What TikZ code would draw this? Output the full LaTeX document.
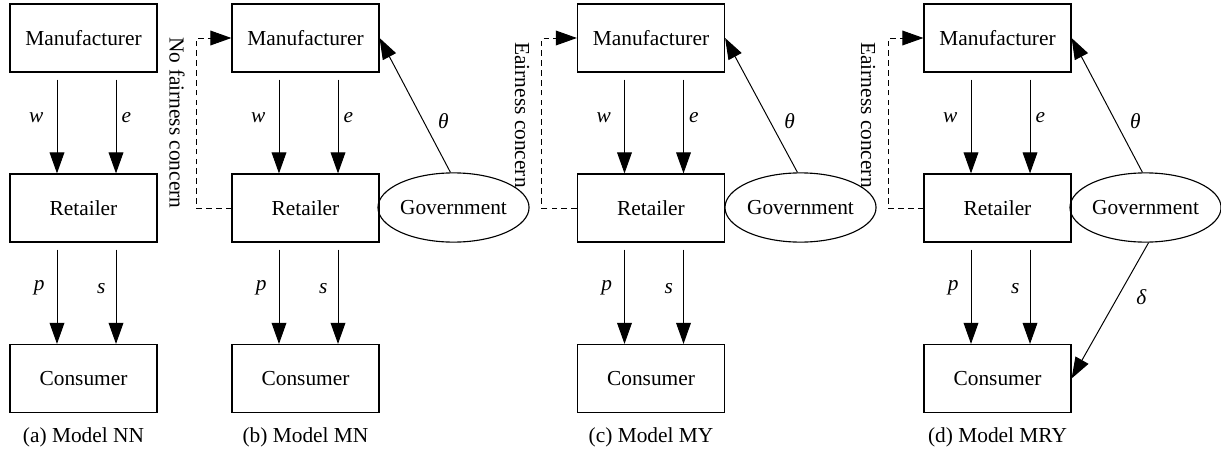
\documentclass[tikz,border=0pt]{standalone}
\usepackage{fontspec}
\setmainfont{Liberation Serif}
\usetikzlibrary{arrows.meta,shapes.geometric}

\begin{document}
\begin{tikzpicture}[x=0.025cm, y=-0.025cm,
    every node/.style={font=\fontsize{15.2}{18}\selectfont},
    box/.style={draw, line width=0.8pt, minimum width=3.675cm, minimum height=1.7cm, inner sep=0pt},
    gov/.style={draw, ellipse, line width=0.8pt, minimum width=3.675cm, minimum height=1.73cm, inner sep=0pt},
    flow/.style={-{Triangle[length=15pt,width=10.5pt]}, line width=0.7pt},
    fair/.style={flow, dash pattern=on 4pt off 3pt},
    lab/.style={font=\fontsize{15.2}{18}\selectfont\itshape, inner sep=0pt},
    concern/.style={rotate=-90, inner sep=0pt}]
  \useasboundingbox (0,0) rectangle (1221,453);
  % Chain of the four models
  \foreach \i/\cx/\mname in {1/83.5/{(a) Model NN}, 2/305.5/{(b) Model MN},
                             3/651/{(c) Model MY}, 4/997.5/{(d) Model MRY}} {
    \node[box] (man\i) at (\cx,38) {Manufacturer};
    \node[box] (ret\i) at (\cx,208) {Retailer};
    \node[box] (con\i) at (\cx,378.5) {Consumer};
    \node (cap\i) at (\cx,437) {\mname};
    \draw[flow, shorten <=5pt] ([xshift=-0.6625cm]man\i.south) -- node[lab, pos=0.45, left=0.33cm] {w} ([xshift=-0.6625cm]ret\i.north);
    \draw[flow, shorten <=5pt] ([xshift=0.8125cm]man\i.south) -- node[lab, pos=0.45, right=0.13cm] {e} ([xshift=0.8125cm]ret\i.north);
    \draw[flow, shorten <=5pt] ([xshift=-0.6625cm]ret\i.south) -- node[lab, pos=0.45, left=0.3cm] {p} ([xshift=-0.6625cm]con\i.north);
    \draw[flow, shorten <=5pt] ([xshift=0.8125cm]ret\i.south) -- node[lab, pos=0.45, left=0.25cm] {s} ([xshift=0.8125cm]con\i.north);
  }
  % Fairness concern of the retailer
  \foreach \i in {2,3,4} {
    \draw[fair] (ret\i.west) -- ++(-35,0) |- (man\i.west);
  }
  \node[concern] (nfc2) at (177,123) {No fairness concern};
  \node[concern] (fc3) at (522,115) {Eairness concern};
  \node[concern] (fc4) at (868,115) {Eairness concern};
  % Government
  \node[gov] (gov2) at (453.5,207.5) {Government};
  \node[gov] (gov3) at (800.5,207.5) {Government};
  \node[gov] (gov4) at (1145.5,207.5) {Government};
  \foreach \i in {2,3,4} {
    \draw[flow] (gov\i.95) -- node[lab, pos=0.38, right=0.35cm] {θ} (man\i.east);
  }
  \draw[flow] (gov4.275) -- node[lab, pos=0.4, right=0.45cm] {δ} (con4.east);
\end{tikzpicture}
\end{document}
